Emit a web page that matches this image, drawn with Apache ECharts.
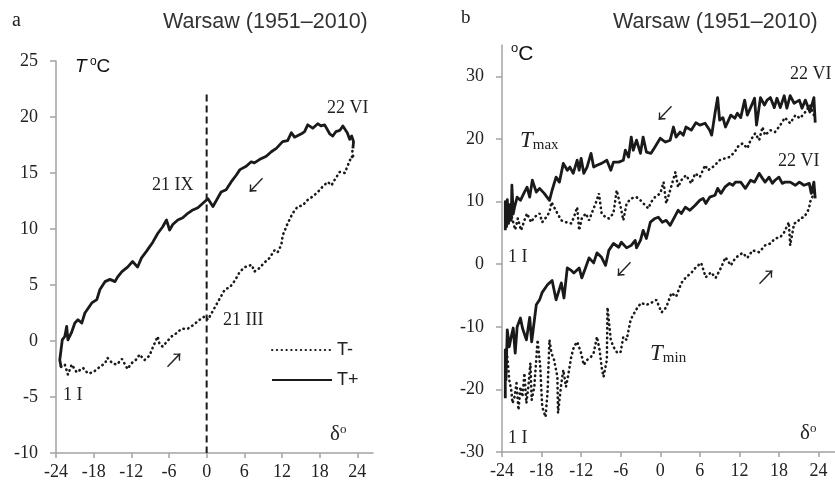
<!DOCTYPE html>
<html>
<head>
<meta charset="utf-8">
<title>Warsaw (1951–2010)</title>
<script src="https://cdn.jsdelivr.net/npm/echarts@6.0.0/dist/echarts.min.js"></script>
<style>
  html, body { margin: 0; padding: 0; background: #fff; }
  #chart { width: 835px; height: 487px; }
</style>
</head>
<body>
<div id="chart"></div>
<script>
// panel a: mean T vs solar declination
const xTicks = [-24, -18, -12, -6, 0, 6, 12, 18, 24];
const yTicksA = [-10, -5, 0, 5, 10, 15, 20, 25];
const yTicksB = [-30, -20, -10, 0, 10, 20, 30];

const tPlus = [[23.3,17.2],[23.4,17.8],[23.1,18.3],[22.8,18.0],[22.4,18.6],[21.7,19.2],[21.2,18.8],[20.6,18.7],[20.1,18.3],[19.6,18.5],[18.8,19.3],[18.2,19.2],[17.7,19.4],[16.9,19.0],[16.1,19.3],[15.6,18.7],[15.1,18.5],[14.0,18.2],[13.5,18.6],[12.9,17.9],[12.1,17.8],[11.1,17.2],[10.3,16.9],[9.5,16.5],[8.4,16.2],[7.6,15.9],[7.1,16.0],[6.3,15.6],[5.3,15.3],[4.7,14.8],[3.9,14.2],[3.1,13.5],[2.3,13.3],[1.0,12.0],[0.2,12.7],[-0.6,12.3],[-1.4,11.9],[-2.2,11.7],[-3.0,11.4],[-3.8,11.0],[-4.6,10.8],[-5.4,10.4],[-5.9,9.9],[-6.4,10.8],[-7.0,10.2],[-7.8,9.6],[-8.6,8.8],[-9.1,8.4],[-9.6,8.0],[-10.4,7.4],[-11.0,6.6],[-11.8,7.1],[-12.6,6.6],[-13.5,6.2],[-14.2,5.7],[-14.6,5.3],[-15.4,5.5],[-16.2,5.3],[-17.0,4.6],[-17.5,3.7],[-18.3,3.4],[-18.9,2.9],[-19.4,2.5],[-19.9,1.6],[-20.5,1.9],[-21.0,1.6],[-21.5,0.8],[-22.1,0.1],[-22.3,1.3],[-22.6,0.4],[-23.0,0.1],[-23.2,-0.8],[-23.4,-1.7],[-23.2,-2.3]];

const tMinus = [[-23.2,-2.3],[-22.6,-2.1],[-22.1,-3.0],[-21.5,-2.1],[-20.7,-2.8],[-19.7,-2.4],[-18.9,-2.9],[-18.1,-2.8],[-17.0,-2.3],[-16.2,-2.0],[-15.8,-1.5],[-15.0,-2.0],[-14.3,-2.1],[-13.5,-1.6],[-12.6,-2.5],[-12.0,-2.0],[-11.1,-1.6],[-10.7,-1.2],[-9.9,-1.7],[-9.1,-1.3],[-8.6,-0.6],[-7.8,0.4],[-7.5,-0.3],[-7.0,-0.5],[-6.4,-0.1],[-5.6,0.4],[-4.8,0.7],[-4.0,1.1],[-3.0,1.1],[-2.2,1.4],[-1.1,1.9],[-0.3,2.2],[0.2,1.9],[0.8,2.5],[1.5,3.2],[2.1,3.8],[2.9,4.6],[3.7,4.8],[4.5,5.4],[5.3,6.2],[6.1,6.6],[7.2,6.8],[7.6,6.2],[8.4,6.5],[9.2,7.0],[10.0,7.4],[10.8,8.1],[11.3,7.9],[11.9,8.6],[12.1,9.4],[12.9,10.5],[13.7,11.4],[14.5,12.0],[15.3,12.1],[16.1,12.6],[16.9,12.9],[17.7,13.3],[18.5,13.8],[19.3,14.2],[19.9,13.9],[20.4,14.4],[21.2,15.1],[22.0,15.0],[22.5,15.7],[23.1,16.5],[23.4,16.3],[23.2,16.9],[23.3,17.2]];

const equinoxLine = [[0, 22], [0, -10]];

// panel b: Tmax / Tmin
const tmaxSolid = [[-23.5,5.4],[-23.5,10.0],[-23.3,6.0],[-23.2,10.3],[-23.0,6.5],[-22.8,9.5],[-22.6,7.0],[-22.5,12.6],[-22.3,8.0],[-22.1,9.1],[-21.7,10.7],[-21.2,10.2],[-20.6,11.5],[-20.2,12.3],[-19.8,10.7],[-19.4,13.4],[-18.8,11.5],[-18.3,12.1],[-17.6,11.3],[-16.8,10.2],[-16.4,11.8],[-15.8,13.9],[-15.3,13.1],[-14.7,16.1],[-14.1,15.0],[-13.7,15.5],[-13.2,14.5],[-12.6,16.6],[-12.3,15.0],[-12.0,16.9],[-11.6,14.5],[-11.1,15.5],[-10.5,17.7],[-10.1,15.5],[-9.6,15.8],[-8.9,16.1],[-8.1,16.6],[-7.5,15.0],[-7.1,16.3],[-6.3,16.3],[-5.6,16.6],[-5.3,18.2],[-4.8,17.1],[-4.4,20.3],[-4.1,18.2],[-3.6,19.8],[-3.0,17.7],[-2.6,20.3],[-2.1,17.9],[-1.4,17.7],[-0.8,18.7],[0.0,20.1],[0.8,19.5],[1.5,19.8],[2.0,21.9],[2.4,20.3],[3.0,21.1],[3.5,20.6],[3.9,21.9],[4.7,21.4],[5.4,22.6],[6.0,22.2],[6.8,22.5],[7.5,21.4],[7.8,20.6],[8.3,24.1],[8.7,26.6],[9.0,23.0],[9.5,23.4],[9.9,21.9],[10.7,23.8],[11.3,23.3],[11.7,24.1],[12.2,23.4],[12.8,26.2],[13.2,23.8],[13.7,25.0],[14.3,26.5],[14.6,22.2],[15.2,26.6],[15.8,25.4],[16.2,26.2],[16.7,26.6],[17.3,25.0],[17.7,26.5],[18.2,25.0],[18.8,26.9],[19.2,24.9],[19.7,26.9],[20.3,25.7],[21.1,26.2],[21.5,24.9],[22.0,26.2],[22.7,24.3],[23.3,26.6],[23.5,22.6]];

const tmaxDotted = [[-22.5,7.5],[-22.0,5.5],[-21.6,7.3],[-21.1,5.4],[-20.6,7.0],[-20.2,8.1],[-19.6,6.7],[-19.1,7.5],[-18.3,8.1],[-17.9,6.7],[-17.3,7.5],[-16.8,8.3],[-16.5,9.9],[-16.1,9.1],[-15.6,8.1],[-15.0,7.0],[-14.3,6.7],[-13.5,6.5],[-13.1,7.5],[-12.6,9.1],[-12.3,5.4],[-11.9,7.3],[-11.3,8.1],[-10.8,7.0],[-10.4,8.1],[-9.8,9.7],[-9.3,11.3],[-8.9,8.1],[-8.3,7.5],[-7.8,7.3],[-7.1,8.1],[-6.6,11.8],[-6.0,9.1],[-5.6,7.0],[-5.1,9.7],[-4.4,10.5],[-3.6,10.7],[-3.0,10.2],[-2.3,9.4],[-1.8,8.9],[-1.4,9.9],[-0.8,10.7],[0.0,11.3],[0.5,13.1],[0.9,9.7],[1.5,11.8],[2.3,14.7],[2.7,12.3],[3.2,13.4],[3.9,14.2],[4.7,12.9],[5.3,14.5],[6.0,13.9],[6.8,15.8],[7.2,15.0],[7.7,15.3],[8.3,15.8],[9.0,16.6],[9.8,16.9],[10.5,17.1],[11.3,17.9],[11.7,18.7],[12.5,19.3],[13.2,18.5],[13.7,19.8],[14.4,20.9],[15.0,19.8],[15.5,21.9],[15.9,20.6],[16.7,21.4],[17.4,21.1],[18.2,22.2],[18.9,23.4],[19.7,22.5],[20.5,23.8],[21.2,23.3],[22.0,24.3],[22.7,25.4],[23.3,23.8]];

const tminSolid = [[-23.5,-21.4],[-23.5,-13.7],[-23.4,-18.5],[-23.2,-10.5],[-22.9,-13.2],[-22.6,-11.6],[-22.3,-10.2],[-22.0,-14.2],[-21.7,-10.0],[-21.2,-8.6],[-20.9,-10.2],[-20.3,-12.1],[-19.8,-8.5],[-19.5,-12.4],[-18.8,-6.5],[-18.3,-5.7],[-17.9,-4.5],[-17.1,-3.3],[-16.4,-2.6],[-15.8,-5.7],[-15.0,-3.0],[-14.6,-5.4],[-14.1,-0.6],[-13.5,-1.0],[-13.1,-1.4],[-12.3,-0.6],[-11.9,-2.2],[-11.3,-0.5],[-10.8,1.0],[-10.1,0.2],[-9.6,1.8],[-8.9,1.1],[-8.3,-0.2],[-7.8,2.2],[-7.1,3.3],[-6.3,2.7],[-5.9,3.5],[-5.1,2.6],[-4.4,3.0],[-3.8,3.8],[-3.6,2.6],[-3.0,3.8],[-2.6,5.4],[-2.1,4.1],[-1.5,6.7],[-0.8,7.3],[-0.3,7.5],[0.3,6.7],[0.9,7.0],[1.5,6.2],[2.3,7.8],[2.7,8.6],[3.2,8.1],[3.8,9.1],[4.5,8.6],[5.3,9.4],[6.0,10.2],[6.5,10.5],[6.9,9.7],[7.5,10.7],[8.3,11.0],[8.7,12.1],[9.2,11.3],[9.8,12.3],[10.5,12.9],[11.0,12.6],[11.4,13.1],[12.2,13.1],[12.9,12.1],[13.7,13.4],[14.3,13.1],[15.0,14.5],[15.5,13.7],[15.9,13.1],[16.5,13.9],[17.0,12.9],[17.4,13.4],[18.0,13.9],[18.5,12.9],[18.9,13.1],[19.7,13.1],[20.5,12.6],[21.1,13.1],[21.8,12.6],[22.6,12.9],[22.9,11.3],[23.3,13.1],[23.5,10.5]];

const tminDotted = [[-23.2,-14.8],[-22.9,-18.5],[-22.6,-20.1],[-22.4,-22.2],[-22.1,-21.2],[-21.8,-19.0],[-21.5,-23.3],[-21.2,-19.6],[-20.9,-21.2],[-20.6,-17.4],[-20.3,-22.2],[-20.0,-19.6],[-19.7,-15.8],[-19.5,-21.7],[-19.1,-19.6],[-18.6,-12.1],[-18.2,-16.4],[-17.9,-22.8],[-17.4,-24.4],[-17.1,-20.6],[-16.8,-12.1],[-16.5,-14.2],[-16.1,-15.3],[-15.6,-18.0],[-15.5,-23.8],[-15.0,-19.0],[-14.7,-16.9],[-14.3,-19.6],[-14.0,-18.0],[-13.5,-14.8],[-13.1,-13.2],[-12.6,-12.4],[-12.0,-14.2],[-11.6,-16.1],[-11.1,-15.3],[-10.5,-14.8],[-10.1,-14.2],[-9.6,-11.6],[-9.2,-13.7],[-8.9,-16.4],[-8.6,-18.0],[-8.1,-15.3],[-8.0,-6.9],[-7.5,-12.1],[-7.1,-13.2],[-6.5,-14.2],[-6.0,-14.0],[-5.6,-11.6],[-5.1,-12.1],[-4.5,-8.9],[-4.1,-8.1],[-3.5,-7.0],[-2.9,-6.2],[-2.1,-6.5],[-1.4,-6.2],[-0.6,-5.7],[0.2,-7.7],[0.9,-6.9],[1.7,-4.6],[2.4,-5.2],[3.2,-3.0],[3.9,-2.1],[4.7,-1.4],[5.4,-0.5],[6.2,0.2],[6.9,-2.1],[7.7,-1.3],[8.4,-2.2],[9.2,-0.6],[9.9,1.1],[10.7,-0.2],[11.4,1.0],[12.5,1.8],[13.2,1.0],[14.0,2.2],[15.0,1.9],[15.9,3.0],[16.7,3.3],[17.4,4.1],[18.2,4.3],[18.8,5.1],[19.5,6.7],[19.7,3.0],[20.3,6.5],[20.8,6.7],[21.2,7.3],[21.8,7.5],[22.3,8.3],[22.6,9.1],[22.7,9.9],[23.0,10.5],[23.3,11.5]];

const SERIF = '"Liberation Serif", "Times New Roman", serif';
const SANS = '"Liberation Sans", Arial, sans-serif';
const ARROW = '20px "Noto Sans CJK SC"';
const AXIS_GREY = '#a3a3a3';
const INK = '#1a1a1a';

function xAxisFor(grid) {
    return {
        type: 'value', gridIndex: grid, min: -24, max: 26.5, interval: 6,
        axisLine: { onZero: false, lineStyle: { color: AXIS_GREY, width: 1.5 } },
        axisTick: { length: 5, customValues: xTicks, lineStyle: { color: AXIS_GREY, width: 1.5 } },
        axisLabel: { customValues: xTicks, margin: 10, fontFamily: SERIF, fontSize: 18, color: '#222' },
        splitLine: { show: false }
    };
}

function yAxisFor(grid, min, max, step, ticks) {
    return {
        type: 'value', gridIndex: grid, min, max, interval: step,
        axisLine: { onZero: false, lineStyle: { color: AXIS_GREY, width: 1.5 } },
        axisTick: { length: 6, customValues: ticks, lineStyle: { color: AXIS_GREY, width: 1.5 } },
        axisLabel: { customValues: ticks, margin: 18, fontFamily: SERIF, fontSize: 18, color: '#222' },
        splitLine: { show: false }
    };
}

function curve(name, data, grid, dotted) {
    return {
        name, type: 'line', data, xAxisIndex: grid, yAxisIndex: grid,
        symbol: 'none', showSymbol: false, smooth: false, silent: true,
        lineStyle: dotted
            ? { color: INK, width: 2.6, type: [0.4, 4.4], cap: 'round' }
            : { color: INK, width: 2.8, join: 'round' },
        itemStyle: { color: INK }
    };
}

function txt(text, x, y, font, extra) {
    return { type: 'text', x, y, silent: true,
        style: Object.assign({ text, font, fill: '#222', verticalAlign: 'middle' }, extra || {}) };
}

const supO = (size) => ({ fontFamily: SERIF, fontSize: size, verticalAlign: 'top', lineHeight: 22 });

const graphics = [
    txt('a', 12, 21, '20px ' + SERIF),
    txt('Warsaw (1951–2010)', 163, 22, '21.5px ' + SANS, { fill: '#333' }),
    { type: 'text', x: 75, y: 67, silent: true, style: {
        text: '{t|T} {o|o}{c|C}', verticalAlign: 'middle', fill: '#111',
        rich: {
            t: { fontFamily: SANS, fontStyle: 'italic', fontSize: 19, lineHeight: 22 },
            o: { fontFamily: SANS, fontSize: 12, verticalAlign: 'top', lineHeight: 22 },
            c: { fontFamily: SANS, fontSize: 19, lineHeight: 22 }
        } } },
    txt('22 VI', 327, 108, '18px ' + SERIF),
    txt('21 IX', 152, 185, '18px ' + SERIF),
    txt('↙', 246, 185, ARROW),
    txt('21 III', 223, 320, '18px ' + SERIF),
    txt('↗', 164, 360, ARROW),
    txt('1 I', 63, 395, '18px ' + SERIF),
    { type: 'text', x: 330, y: 434, silent: true, style: {
        text: '{d|δ}{o|o}', verticalAlign: 'middle', fill: '#222',
        rich: { d: { fontFamily: SERIF, fontSize: 21, lineHeight: 22 }, o: supO(13) } } },

    txt('b', 461, 18, '19px ' + SERIF),
    txt('Warsaw (1951–2010)', 613, 22, '21.5px ' + SANS, { fill: '#333' }),
    { type: 'text', x: 511, y: 54, silent: true, style: {
        text: '{o|o}{c|C}', verticalAlign: 'middle', fill: '#111',
        rich: {
            o: { fontFamily: SANS, fontSize: 13, verticalAlign: 'top', lineHeight: 24 },
            c: { fontFamily: SANS, fontSize: 21, lineHeight: 24 }
        } } },
    txt('22 VI', 790, 74, '18px ' + SERIF),
    { type: 'text', x: 520, y: 141, silent: true, style: {
        text: '{t|T}{s|max}', verticalAlign: 'middle', fill: '#222',
        rich: {
            t: { fontFamily: SERIF, fontStyle: 'italic', fontSize: 23, lineHeight: 24 },
            s: { fontFamily: SERIF, fontSize: 15, verticalAlign: 'bottom', lineHeight: 24 }
        } } },
    txt('↙', 655, 113, ARROW),
    txt('22 VI', 778, 161, '18px ' + SERIF),
    txt('1 I', 508, 257, '18px ' + SERIF),
    txt('↙', 614, 269, ARROW),
    txt('↗', 756, 277, ARROW),
    { type: 'text', x: 650, y: 354, silent: true, style: {
        text: '{t|T}{s|min}', verticalAlign: 'middle', fill: '#222',
        rich: {
            t: { fontFamily: SERIF, fontStyle: 'italic', fontSize: 23, lineHeight: 24 },
            s: { fontFamily: SERIF, fontSize: 15, verticalAlign: 'bottom', lineHeight: 24 }
        } } },
    txt('1 I', 508, 438, '18px ' + SERIF),
    { type: 'text', x: 800, y: 433, silent: true, style: {
        text: '{d|δ}{o|o}', verticalAlign: 'middle', fill: '#222',
        rich: { d: { fontFamily: SERIF, fontSize: 21, lineHeight: 22 }, o: supO(13) } } }
];

const chart = echarts.init(document.getElementById('chart'), null, { renderer: 'canvas' });
chart.setOption({
    animation: false,
    backgroundColor: '#fff',
    grid: [
        { left: 56, top: 61, width: 317, height: 392 },
        { left: 502, top: 45, width: 336, height: 407 }
    ],
    xAxis: [xAxisFor(0), xAxisFor(1)],
    yAxis: [yAxisFor(0, -10, 25, 5, yTicksA), yAxisFor(1, -30, 35, 10, yTicksB)],
    legend: {
        data: ['T-', 'T+'], orient: 'vertical', left: 266, top: 335,
        itemWidth: 60, itemHeight: 14, itemGap: 10, selectedMode: false,
        itemStyle: { opacity: 0 },
        textStyle: { fontFamily: SANS, fontSize: 18, color: '#222', lineHeight: 20 }
    },
    series: [
        curve('T-', tMinus, 0, true),
        curve('T+', tPlus, 0, false),
        {
            name: 'equinox', type: 'line', data: equinoxLine, xAxisIndex: 0, yAxisIndex: 0,
            symbol: 'none', silent: true,
            lineStyle: { color: INK, width: 2, type: [7, 4] }
        },
        curve('Tmax dotted', tmaxDotted, 1, true),
        curve('Tmax solid', tmaxSolid, 1, false),
        curve('Tmin dotted', tminDotted, 1, true),
        curve('Tmin solid', tminSolid, 1, false)
    ],
    graphic: graphics
});
</script>
</body>
</html>
